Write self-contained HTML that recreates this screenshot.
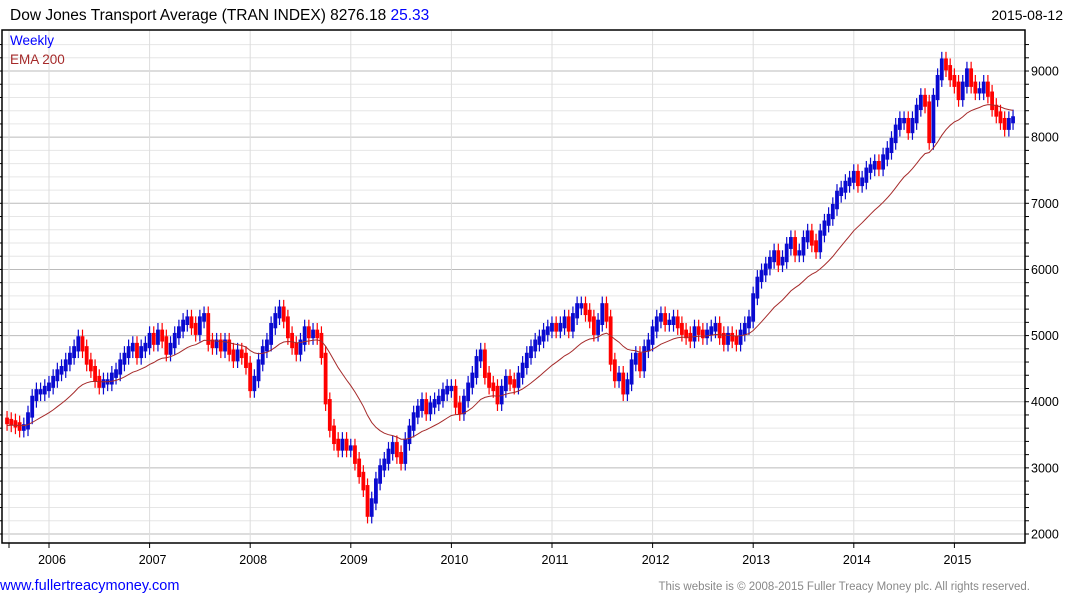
<!DOCTYPE html>
<html><head><meta charset="utf-8">
<style>
body{margin:0;background:#fff;width:1075px;height:600px;overflow:hidden;font-family:"Liberation Sans",Arial,sans-serif;}
svg text{font-family:"Liberation Sans",Arial,sans-serif;}
</style></head>
<body>
<svg id="chart" width="1075" height="600" xmlns="http://www.w3.org/2000/svg">
<text x="10" y="20" font-size="15.5" fill="#000">Dow Jones Transport Average (TRAN INDEX) 8276.18 <tspan fill="#0000ff">25.33</tspan></text>
<text x="1063" y="20" font-size="14" text-anchor="end" fill="#000">2015-08-12</text>
<g id="grid"></g>
<g id="bars"></g>
<path id="ema" fill="none" stroke="#a52a2a" stroke-width="1"/>
<rect x="2" y="30" width="1023" height="513" fill="none" stroke="#000" stroke-width="1.5"/>
<g id="axes"></g>
<text x="10" y="45" font-size="13.5" fill="#0000ff">Weekly</text>
<text x="10" y="64" font-size="13.5" fill="#a52a2a">EMA 200</text>
<text x="0" y="590" font-size="14.5" fill="#0000ff">www.fullertreacymoney.com</text>
<text x="1030" y="590" font-size="11.5" fill="#888" text-anchor="end">This website is © 2008-2015 Fuller Treacy Money plc. All rights reserved.</text>
</svg>
<script>
const yTicks=[2000,3000,4000,5000,6000,7000,8000,9000];
const yearLabels=["2006","2007","2008","2009","2010","2011","2012","2013","2014","2015"];
const startYear=2005.583;
const closes=[
3700,3680,3650,3600,3620,3800,4050,4150,4150,4200,
4250,4350,4450,4500,4600,4700,4800,4950,4800,4600,4500,4350,4250,4300,4300,4400,4450,4600,4700,4800,4850,4700,4800,4850,
5000,4900,5050,4950,4750,4850,5000,5100,5200,5250,5150,5050,5250,5300,4900,4850,4900,4800,4900,4750,4650,4750,4700,4550,
4200,4350,4600,4800,4900,5150,5300,5400,5250,5000,4850,4750,4900,5100,5000,5050,5000,4700,4000,3600,3400,3300,3400,3300,
3300,3100,2900,2700,2300,2500,2800,3000,3100,3250,3350,3200,3100,3400,3600,3800,3900,4000,3850,3950,4000,4050,4150,4200,
4200,3950,3850,4050,4250,4400,4650,4750,4400,4250,4200,4000,4200,4350,4300,4250,4400,4550,4700,4800,4900,4950,5050,5100,
5150,5100,5150,5250,5100,5300,5450,5450,5350,5250,5050,5200,5450,5250,4600,4350,4400,4150,4300,4600,4700,4500,4800,4900,
5100,5250,5300,5200,5200,5250,5150,5050,5000,4950,5100,5050,5000,5050,5100,5150,5000,4900,5000,4950,4900,5050,5150,5250,
5600,5850,5950,6050,6150,6250,6100,6150,6350,6450,6250,6250,6450,6550,6400,6300,6550,6700,6800,6950,7150,7200,7300,7350,
7450,7300,7350,7500,7550,7600,7550,7700,7800,7950,8150,8250,8250,8100,8250,8450,8600,8500,7950,8600,8900,9150,9050,8900,
8800,8600,8800,9000,8800,8700,8700,8800,8650,8450,8350,8250,8150,8250,8276
];
const NS="http://www.w3.org/2000/svg";
function yOf(p){return 534-(p-2000)*0.06614;}
function xOfYear(t){return 49+(t-2006)*100.6;}
function xOf(i){return xOfYear(startYear+i/24);}
function mk(tag,attrs,parent){const e=document.createElementNS(NS,tag);for(const k in attrs)e.setAttribute(k,attrs[k]);parent.appendChild(e);return e;}
const grid=document.getElementById('grid'),axes=document.getElementById('axes'),bars=document.getElementById('bars');
for(let p=1800;p<=9400;p+=200){const y=yOf(p);if(y<31||y>542)continue;
 const major=p%1000===0;
 const l=mk('line',{x1:2,x2:1025,y1:y,y2:y,stroke:major?'#bbbbbb':'#e6e6e6','stroke-width':1},grid);
 
 
 const t=mk('line',{x1:1025,x2:1029,y1:y,y2:y,stroke:'#000','stroke-width':1},axes);
 
 
 const t2=mk('line',{x1:0,x2:2,y1:y,y2:y,stroke:'#000','stroke-width':1},axes);
 
 
}
yTicks.forEach(v=>{const tx=mk('text',{x:1031,y:yOf(v)+4.5,'font-size':12.5,fill:'#000'},axes);tx.textContent=v;
 
 });
const vfirst=mk('line',{x1:9,x2:9,y1:30,y2:543,stroke:'#dddddd'},grid);


yearLabels.forEach(lbl=>{const x=xOfYear(+lbl);
 const l=mk('line',{x1:x,x2:x,y1:30,y2:543,stroke:'#dddddd'},grid);
 
 
 const t=mk('line',{x1:x,x2:x,y1:543,y2:548,stroke:'#000'},axes);
 
 
 const tx=mk('text',{x:x+3,y:564,'font-size':12.5,'text-anchor':'middle',fill:'#000'},axes);tx.textContent=lbl;
 
 });
const t0=mk('line',{x1:9,x2:9,y1:543,y2:548,stroke:'#000'},axes);


for(let i=0;i<closes.length;i++){
 const o=i===0?closes[0]+20:closes[i-1],c=closes[i];
 const up=c>=o,col=up?'#0a0ad0':'#ff0000',x=xOf(i);
 const hi=Math.max(o,c),lo=Math.min(o,c);
 const w=mk('line',{x1:x,x2:x,y1:yOf(hi+140),y2:yOf(lo-140),stroke:col,'stroke-width':1.2},bars);
 
 
 const r=mk('rect',{x:x-1.9,y:yOf(hi+40),width:3.8,height:Math.max(3,yOf(lo-40)-yOf(hi+40)),fill:col},bars);
 
 
}
let e=closes[0]-60,d='';const a=2/24;
for(let i=0;i<closes.length;i++){e=i===0?e:e+a*(closes[i]-e);d+=(i?'L':'M')+xOf(i).toFixed(1)+','+yOf(e).toFixed(1);}
document.getElementById('ema').setAttribute('d',d);
</script>
</body></html>
